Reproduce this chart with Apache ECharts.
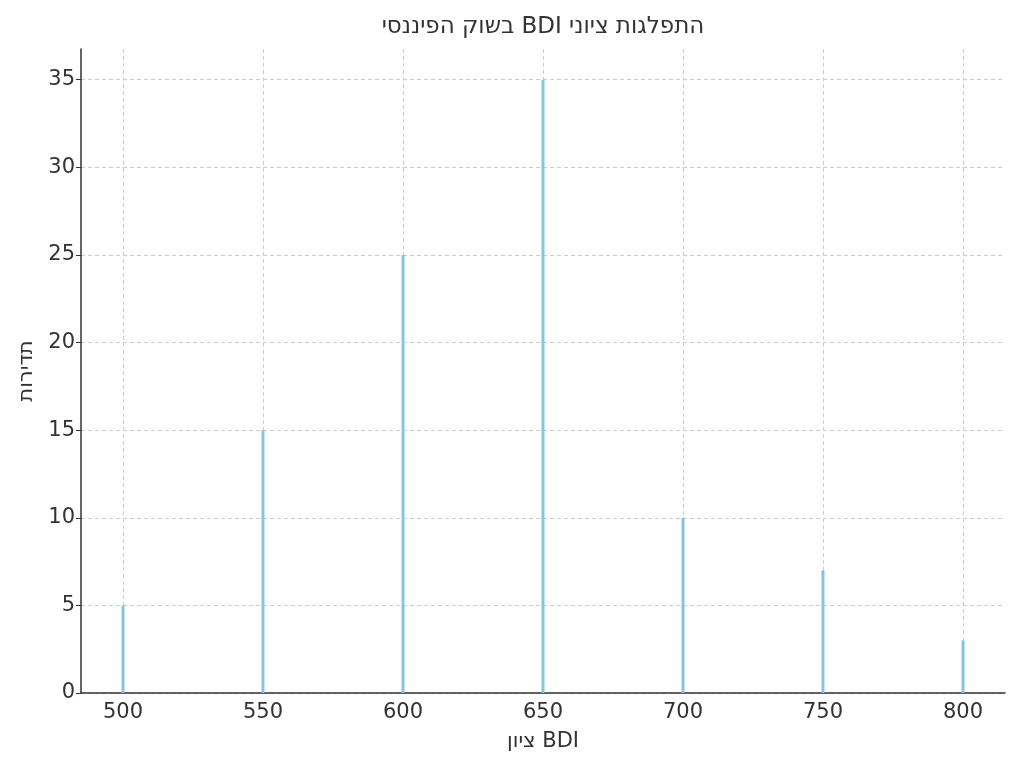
<!DOCTYPE html>
<html>
<head>
<meta charset="utf-8">
<script src="https://cdn.jsdelivr.net/npm/echarts@6/dist/echarts.min.js"></script>
<style>
  html, body { margin: 0; padding: 0; background: #fff; }
  #chart { width: 1024px; height: 768px; }
</style>
</head>
<body>
<div id="chart"></div>
<script>
// BDI scores and how often each one occurs
var scores = [500, 550, 600, 650, 700, 750, 800];
var counts = [5, 15, 25, 35, 10, 7, 3];
var xTicks = [500, 550, 600, 650, 700, 750, 800];
var yTicks = [0, 5, 10, 15, 20, 25, 30, 35];

var chart = echarts.init(document.getElementById('chart'));

var font = 'DejaVu Sans';
var data = scores.map(function (s, i) { return [s, counts[i]]; });

var option = {
  backgroundColor: '#ffffff',
  animation: false,
  title: {
    // RLE ... PDF so the Hebrew reads right to left
    text: '\u202Bהתפלגות ציוני BDI בשוק הפיננסי\u202C',
    left: 543,
    top: 16,
    padding: 0,
    textAlign: 'center',
    textStyle: { fontFamily: font, fontSize: 23, fontWeight: 'normal', color: '#333333' }
  },
  grid: { left: 81, right: 19, top: 49, bottom: 75, containLabel: false },
  xAxis: {
    type: 'value',
    min: 485,
    max: 815,
    name: 'ציון BDI',
    nameLocation: 'middle',
    nameGap: 38,
    nameTextStyle: { fontFamily: font, fontSize: 21, color: '#333333' },
    axisLine: { lineStyle: { color: '#333333', width: 1.5 } },
    axisTick: { show: true, inside: true, length: 5, customValues: xTicks, lineStyle: { color: '#333333' } },
    axisLabel: { customValues: xTicks, fontFamily: font, fontSize: 21, color: '#333333', margin: 9 },
    splitLine: { show: true, lineStyle: { color: '#cccccc', type: [4, 3], width: 1 } }
  },
  yAxis: {
    type: 'value',
    min: 0,
    max: 36.75,
    name: 'תדירות',
    nameLocation: 'middle',
    nameGap: 40,
    nameRotate: 90,
    nameTextStyle: { fontFamily: font, fontSize: 21, color: '#333333' },
    axisLine: { show: true, lineStyle: { color: '#333333', width: 1.5 } },
    axisTick: { show: true, length: 5, customValues: yTicks, lineStyle: { color: '#333333' } },
    axisLabel: { customValues: yTicks, fontFamily: font, fontSize: 21, color: '#333333', margin: 6 },
    splitLine: { show: true, lineStyle: { color: '#cccccc', type: [4, 3], width: 1 } }
  },
  series: [{
    name: 'תדירות',
    type: 'bar',
    barWidth: 3,
    itemStyle: { color: '#87c4e2' },
    data: data
  }]
};

chart.setOption(option);
</script>
</body>
</html>
